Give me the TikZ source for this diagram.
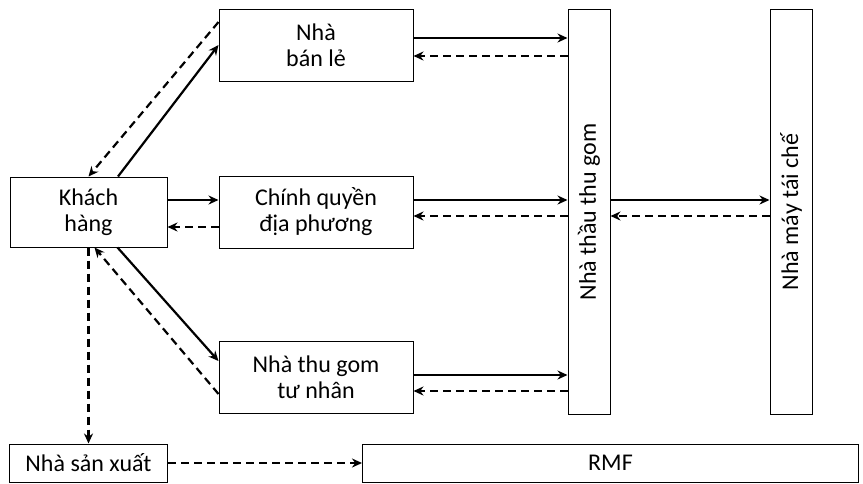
\documentclass[tikz,border=0pt]{standalone}
\usepackage{fontspec}
\setmainfont{Carlito}
\usetikzlibrary{arrows.meta, positioning}

\begin{document}
\begin{tikzpicture}[
  x=1pt, y=1pt,
  node distance=51pt and 51pt,
  box/.style={rectangle, draw, line width=1pt, inner sep=2pt,
    minimum width=194pt, minimum height=72pt,
    font=\fontsize{24}{26}\selectfont, align=center},
  tall/.style={box, minimum width=42pt, minimum height=405pt},
  arr/.style={-{Stealth[length=10pt, width=9pt]}, line width=2.2pt},
  darr/.style={arr, dash pattern=on 8pt off 5pt},
]
  \useasboundingbox (0,0) rectangle (863,-483);
  \node[box, minimum width=157pt, minimum height=70pt] (khach) at (88.5,-212) {Khách\\hàng};
  \node[box, right=51pt of khach] (chinh) {Chính quyền\\địa phương};
  \node[box, above=94pt of chinh] (banle) {Nhà\\bán lẻ};
  \node[box, below=92pt of chinh] (tugom) {Nhà thu gom\\tư nhân};
  \node[tall, right=154pt of chinh] (thau) {\rotatebox{90}{Nhà thầu thu gom}};
  \node[tall, right=159pt of thau] (nhamay) {\rotatebox{90}{Nhà máy tái chế}};
  \node[box, minimum width=158pt, minimum height=38pt, below=196pt of khach] (sanxuat) {Nhà sản xuất};
  \node[box, minimum width=496pt, minimum height=38pt, right=194pt of sanxuat] (rmf) {RMF};
  % khach hang <-> ba nhom thu gom
  \draw[arr] ([xshift=29.5pt]khach.north) -- (banle.west);
  \draw[darr] ([yshift=23pt]banle.west) -- (khach.north);
  \draw[arr] ([yshift=12pt]khach.east) -- ([yshift=12pt]khach.east -| chinh.west);
  \draw[darr] ([yshift=-15pt]khach.east -| chinh.west) -- ([yshift=-15pt]khach.east);
  \draw[arr] ([xshift=29pt]khach.south) -- ([yshift=16pt]tugom.west);
  \draw[darr] ([yshift=-17pt]tugom.west) -- ([xshift=6pt]khach.south);
  % sang nha thau
  \draw[arr] ([yshift=7pt]banle.east) -- ([yshift=7pt]banle.east -| thau.west);
  \draw[darr] ([yshift=-11pt]banle.east -| thau.west) -- ([yshift=-11pt]banle.east);
  \draw[arr] ([yshift=12pt]chinh.east) -- ([yshift=12pt]chinh.east -| thau.west);
  \draw[darr] ([yshift=-4pt]chinh.east -| thau.west) -- ([yshift=-4pt]chinh.east);
  \draw[arr] ([yshift=2pt]tugom.east) -- ([yshift=2pt]tugom.east -| thau.west);
  \draw[darr] ([yshift=-14pt]tugom.east -| thau.west) -- ([yshift=-14pt]tugom.east);
  % nha thau <-> nha may
  \draw[arr] ([yshift=12pt]chinh.east -| thau.east) -- ([yshift=12pt]chinh.east -| nhamay.west);
  \draw[darr] ([yshift=-4pt]chinh.east -| nhamay.west) -- ([yshift=-4pt]chinh.east -| thau.east);
  % nha san xuat
  \draw[darr] (khach.south) -- (sanxuat.north);
  \draw[darr] (sanxuat.east) -- (rmf.west);
\end{tikzpicture}
\end{document}
